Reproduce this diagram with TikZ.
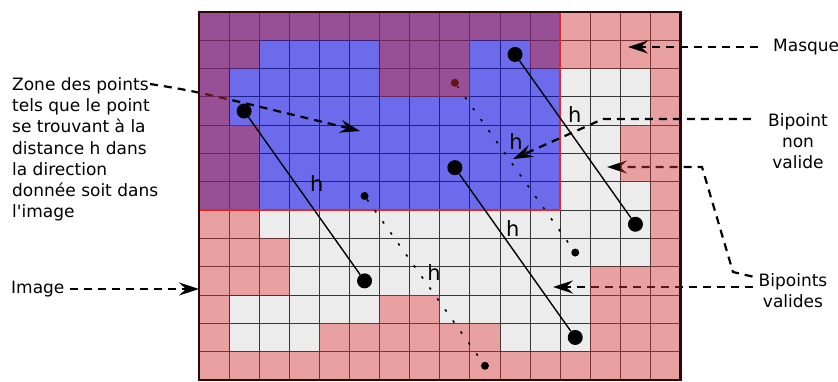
\documentclass[tikz,border=0pt]{standalone}
\usepackage{fontspec}
\setmainfont{DejaVu Sans}
\usepackage{tikz}
\usetikzlibrary{arrows.meta, positioning, calc}
\definecolor{imgcolor}{RGB}{236,236,236}
\definecolor{zonecolor}{RGB}{107,107,235}
\definecolor{zonegrid}{RGB}{30,30,140}
\definecolor{maskcolor}{RGB}{205,48,48}
\definecolor{gridcolor}{RGB}{55,55,55}
\definecolor{zoneedge}{RGB}{225,40,40}
\definecolor{framecolor}{RGB}{45,8,8}

% masked cells: row/{columns}
\newcommand{\maskcells}{0/{0,...,15}, 1/{0,1,6,7,8,11,12,13,14,15}, 2/{0,6,7,8,15}, 3/{0,15}, 4/{0,1,14,15}, 5/{0,1,14,15}, 6/{0,1,15}, 7/{0,1,15}, 8/{0,1,2,15}, 9/{0,1,2,13,14,15}, 10/{0,6,7,13,14,15}, 11/{0,4,5,6,7,8,9,13,14,15}, 12/{0,...,15}}

\begin{document}
\begin{tikzpicture}[
    x=1pt, y=-1pt,
    >={Stealth[length=20pt, width=13pt, inset=7pt]},
    pixgrid/.style={shift={(199,12)}, x=30.1pt, y=-28.3pt},
    lbl/.style={font=\fontsize{17}{21.3}\selectfont, inner sep=0pt},
    hlbl/.style={font=\fontsize{21}{25}\selectfont, inner sep=0pt},
    callout/.style={->, line width=2.2pt, dash pattern=on 8pt off 6pt},
    bigpt/.style={circle, fill=black, inner sep=0pt, minimum size=15pt},
    smallpt/.style={circle, fill=black, inner sep=0pt, minimum size=8pt},
    pairline/.style={line width=1.4pt},
    dotline/.style={line width=1.6pt, dash pattern=on 2.5pt off 11pt},
]
    \useasboundingbox (0,0) rectangle (838,381);

    % image and zone
    \begin{scope}[pixgrid]
        \fill[imgcolor] (0,0) rectangle (16,13);
        \foreach \r/\m in \maskcells {\foreach \c in \m {\fill[white] (\c,\r) rectangle ++(1,1);}}
        \foreach \i in {0,...,16} \draw[gridcolor, line width=1pt] (\i,0) -- (\i,13);
        \foreach \j in {0,...,13} \draw[gridcolor, line width=1pt] (0,\j) -- (16,\j);
        \fill[zonecolor] (0,0) rectangle (12,7);
        \foreach \i in {0,...,12} \draw[zonegrid, line width=1pt] (\i,0) -- (\i,7);
        \foreach \j in {0,...,7} \draw[zonegrid, line width=1pt] (0,\j) -- (12,\j);

        \node[smallpt] (q1a) at (8.5,2.5) {};
        \node[smallpt] (q1b) at (12.5,8.5) {};
    \end{scope}
    \draw[dotline] (q1a) -- node[hlbl, pos=.34, right=12pt] {h} (q1b);

    % labels
    \node[lbl, anchor=north west, align=left] (zonetxt) at (12,77)
        {Zone des points\\tels que le point\\se trouvant à la\\distance h dans\\la direction\\donnée soit dans\\l\textquotesingle image};
    \node[lbl, anchor=west] (imagelbl) at (11,289) {Image};
    \node[lbl, anchor=west] (masklbl) at (773,47) {Masque};
    \node[lbl, align=center] (nvlbl) at (798,141) {Bipoint\\non\\valide};
    \node[lbl, align=center] (vlbl) at (793,291) {Bipoints\\valides};

    \coordinate (zonestart) at (150,84);
    \coordinate (zonetip) at (360,131);
    \coordinate (vkinka) at (733,272);
    \coordinate (vkinkb) at (702,167);
    \coordinate (vtipa) at (553,287);
    \coordinate (vtipb) at (607,167);
    \draw[callout] (zonestart) .. controls (195,91) .. (zonetip);
    \draw[callout, shorten <=6pt] (vlbl.west |- vtipa) -- (vtipa);
    \draw[callout] ([xshift=-6pt, yshift=-3pt]vlbl.north west) -- (vkinka) -- (vkinkb) -- (vtipb);

    % mask over everything below
    \begin{scope}[pixgrid]
        \fill[maskcolor, fill opacity=.46] \foreach \r/\m in \maskcells {\foreach \c in \m {(\c,\r) rectangle ++(1,1)}};
        \draw[zoneedge, line width=1.8pt] (0,0) rectangle (12,7);
        \draw[framecolor, line width=2.6pt] (0,0) rectangle (16,13);

        \node[bigpt] (p1a) at (1.5,3.5) {};
        \node[bigpt] (p1b) at (5.5,9.5) {};
        \node[bigpt] (p2a) at (10.5,1.5) {};
        \node[bigpt] (p2b) at (14.5,7.5) {};
        \node[bigpt] (p3a) at (8.5,5.5) {};
        \node[bigpt] (p3b) at (12.5,11.5) {};
        \node[smallpt] (q2a) at (5.5,6.5) {};
        \node[smallpt] (q2b) at (9.5,12.5) {};
    \end{scope}

    % bipoints
    \draw[pairline] (p1a) -- node[hlbl, pos=.42, right=14pt] {h} (p1b);
    \draw[pairline] (p2a) -- node[hlbl, pos=.34, right=10pt] {h} (p2b);
    \draw[pairline] (p3a) -- node[hlbl, pos=.35, right=7pt] {h} (p3b);
    \draw[dotline] (q2a) -- node[hlbl, pos=.45, right=7.5pt] {h} (q2b);

    \coordinate (masktip) at (628,47);
    \coordinate (imgtip) at (199,289);
    \coordinate (nvkink) at (603,119);
    \coordinate (nvtip) at (513,159);
    \draw[callout, shorten <=15pt] (masklbl.west) -- (masktip);
    \draw[callout, shorten <=5pt] (imagelbl.east) -- (imgtip);
    \draw[callout, shorten <=17pt] (nvlbl.west |- nvkink) -- (nvkink) -- (nvtip);
\end{tikzpicture}
\end{document}
